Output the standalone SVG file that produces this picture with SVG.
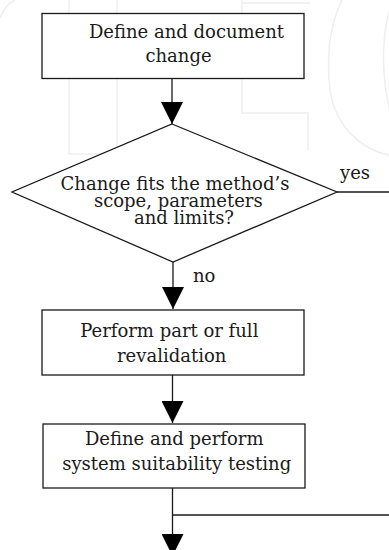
<svg xmlns="http://www.w3.org/2000/svg" width="389" height="550" viewBox="0 0 389 550">
<style>
.wm{fill:none;stroke:#eeeeee;stroke-width:1.5}
.box{fill:#ffffff;stroke:#1a1a1a;stroke-width:1.3}
.ln{fill:none;stroke:#1a1a1a;stroke-width:1.3}
text{font-family:"DejaVu Serif","Liberation Serif",serif;font-size:18px;fill:#1a1a1a}
.c{text-anchor:middle}
</style>
<defs>
<marker id="ah" markerUnits="userSpaceOnUse" markerWidth="24" markerHeight="22" refX="22" refY="11" orient="auto">
<path d="M0,0 L22,11 L0,22 Z" fill="#000000"/>
</marker>
</defs>
<rect width="389" height="550" fill="#ffffff"/>
<g id="watermark">
<path class="wm" d="M0,18 Q5,5 15,0"/>
<path class="wm" d="M69,-5 V154 H117 V-5"/>
<path class="wm" d="M242,-5 V113 H308 V150"/>
<path class="wm" d="M242,3 H310"/>
<path class="wm" d="M342,0 C330,25 326,55 330,90 C335,125 360,150 392,156"/>
<path class="wm" d="M390,10 C383,30 380,70 390,112"/>
</g>
<g id="connectors">
<line class="ln" x1="172" y1="78" x2="172" y2="124" marker-end="url(#ah)"/>
<line class="ln" x1="337" y1="192" x2="392" y2="192"/>
<line class="ln" x1="173" y1="262" x2="173" y2="309" marker-end="url(#ah)"/>
<line class="ln" x1="172.5" y1="375" x2="172.5" y2="423" marker-end="url(#ah)"/>
<line class="ln" x1="172.5" y1="488" x2="172.5" y2="556" marker-end="url(#ah)"/>
<line class="ln" x1="172.5" y1="515" x2="392" y2="515"/>
<text x="340" y="179">yes</text>
<text x="193" y="282">no</text>
</g>
<g id="n1">
<rect class="box" x="42" y="13.5" width="262" height="65"/>
<text class="c" x="186.5" y="38">Define and document</text>
<text class="c" x="178.5" y="61.5">change</text>
</g>
<g id="n2">
<path class="box" d="M172,124 L337,192 L173,262 L12,192 Z"/>
<text class="c" x="175" y="190">Change fits the method’s</text>
<text class="c" x="178.3" y="207">scope, parameters</text>
<text class="c" x="184" y="223.5">and limits?</text>
</g>
<g id="n3">
<rect class="box" x="42" y="310" width="262" height="65"/>
<text class="c" x="169.3" y="337">Perform part or full</text>
<text class="c" x="171.7" y="362">revalidation</text>
</g>
<g id="n4">
<rect class="box" x="43" y="424" width="262" height="64"/>
<text class="c" x="174.2" y="445">Define and perform</text>
<text class="c" x="176.7" y="470">system suitability testing</text>
</g>
</svg>
